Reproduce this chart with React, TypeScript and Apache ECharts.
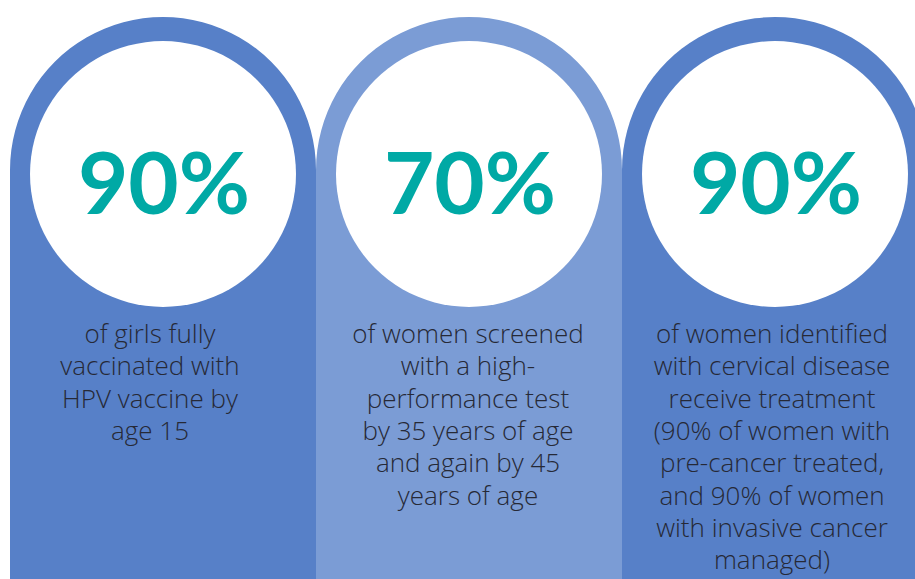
import React, { useEffect, useRef } from "react";
import * as echarts from "echarts";

const categories = ["HPV vaccination", "Screening", "Treatment"];
const targetValues = [90, 70, 90];
const columnColors = ["#5780C8", "#7B9CD5", "#5780C8"];
const descriptions = [
  ["of girls fully", "vaccinated with", "HPV vaccine by", "age 15"],
  [
    "of women screened",
    "with a high-",
    "performance test",
    "by 35 years of age",
    "and again by 45",
    "years of age",
  ],
  [
    "of women identified",
    "with cervical disease",
    "receive treatment",
    "(90% of women with",
    "pre-cancer treated,",
    "and 90% of women",
    "with invasive cancer",
    "managed)",
  ],
];

const TEXT_SHIFT = [-13, -1, -3];

export default function App() {
  const ref = useRef<HTMLDivElement>(null);
  useEffect(() => {
    if (!ref.current) return;
    const chart = echarts.init(ref.current, undefined, { renderer: "svg" });
    const data = categories.map((c, i) => [i, targetValues[i]]);
    chart.setOption({
      animation: false,
      backgroundColor: "#ffffff",
      grid: { left: 10, top: 0, right: 0, bottom: 0 },
      xAxis: { type: "category", data: categories, show: false, boundaryGap: true },
      yAxis: { type: "value", min: 0, max: 100, show: false },
      series: [
        {
          type: "custom",
          clip: false,
          data,
          renderItem: (params: any, api: any) => {
            const idx = api.value(0);
            const val = api.value(1);
            const cx = api.coord([idx, 0])[0];
            const band = api.size([1, 0])[0];
            const R = band / 2;
            const archCy = 17 + R;
            const circR = R - 20;
            const circCy = 174;
            const color = columnColors[idx];
            return {
              type: "group",
              children: [
                {
                  type: "circle",
                  shape: { cx, cy: archCy, r: R },
                  style: { fill: color },
                },
                {
                  type: "rect",
                  shape: { x: cx - R, y: archCy, width: band, height: 600 },
                  style: { fill: color },
                },
                {
                  type: "circle",
                  shape: { cx, cy: circCy, r: circR },
                  style: { fill: "#ffffff" },
                },
                {
                  type: "text",
                  style: {
                    text: val + "%",
                    x: cx + 1,
                    y: 180,
                    align: "center",
                    verticalAlign: "middle",
                    fill: "#00A9A5",
                    fontFamily: "Lato",
                    fontWeight: "bold",
                    fontSize: 87,
                  },
                },
                {
                  type: "text",
                  style: {
                    text: descriptions[idx].join("\n"),
                    x: cx + TEXT_SHIFT[idx],
                    y: 317,
                    align: "center",
                    verticalAlign: "top",
                    fill: "#262936",
                    fontFamily: "Open Sans",
                    fontWeight: 300,
                    fontSize: 26,
                    lineHeight: 32.3,
                  },
                },
              ],
            };
          },
        },
      ],
    });
    return () => chart.dispose();
  }, []);
  return (
    <div
      style={{
        position: "absolute",
        left: 0,
        top: 0,
        width: 915,
        height: 579,
        overflow: "hidden",
        background: "#ffffff",
      }}
    >
      <div ref={ref} style={{ width: 928, height: 579 }} />
    </div>
  );
}
